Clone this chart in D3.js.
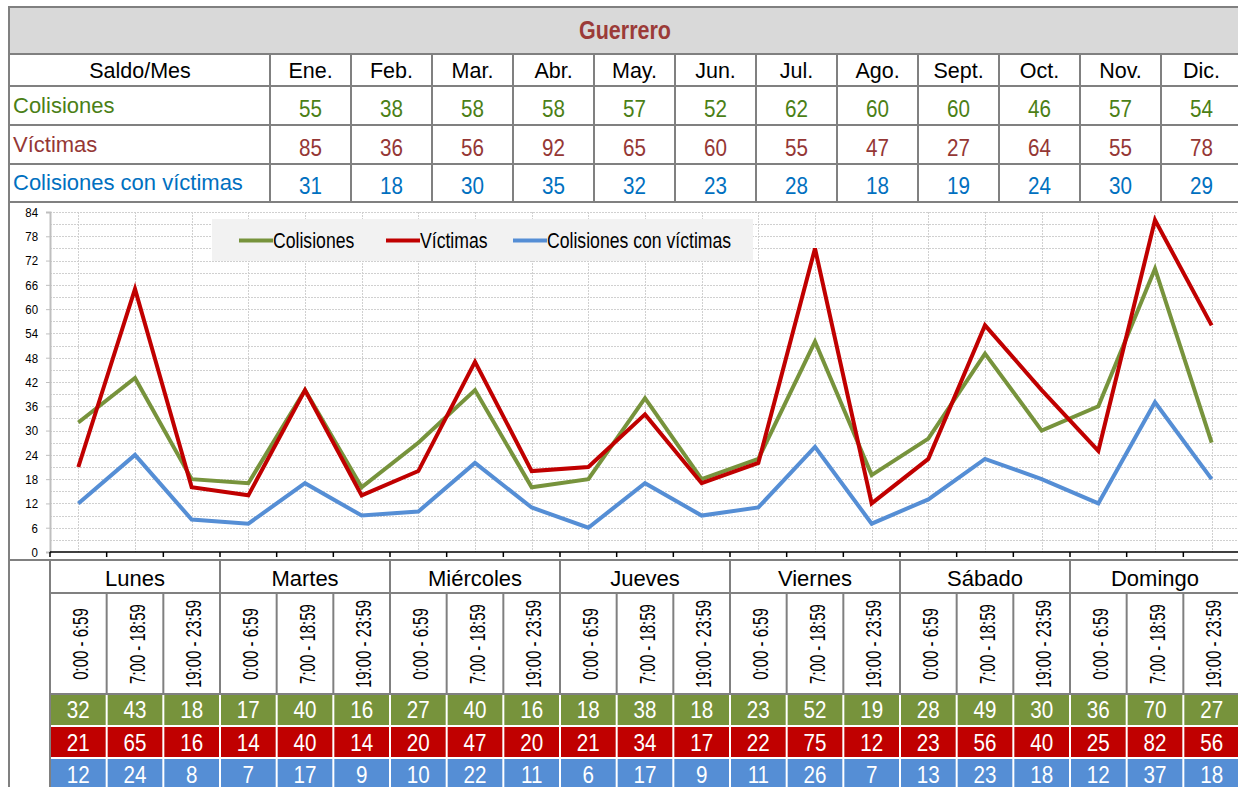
<!DOCTYPE html>
<html><head><meta charset="utf-8">
<script src="https://cdn.jsdelivr.net/npm/d3@7"></script>
<style>body{margin:0;background:#fff}svg{display:block}text{font-family:"Liberation Sans",Arial,sans-serif}</style>
</head><body>
<script>
const title = "Guerrero";
const months = ["Ene.","Feb.","Mar.","Abr.","May.","Jun.","Jul.","Ago.","Sept.","Oct.","Nov.","Dic."];
const monthColisiones = [55,38,58,58,57,52,62,60,60,46,57,54];
const monthVictimas = [85,36,56,92,65,60,55,47,27,64,55,78];
const monthColVict = [31,18,30,35,32,23,28,18,19,24,30,29];
const rowLabels = ["Colisiones","Víctimas","Colisiones con víctimas"];
const days = ["Lunes","Martes","Miércoles","Jueves","Viernes","Sábado","Domingo"];
const shifts = ["0:00 - 6:59","7:00 - 18:59","19:00 - 23:59"];
const colisiones = [32,43,18,17,40,16,27,40,16,18,38,18,23,52,19,28,49,30,36,70,27];
const victimas = [21,65,16,14,40,14,20,47,20,21,34,17,22,75,12,23,56,40,25,82,56];
const colVict = [12,24,8,7,17,9,10,22,11,6,17,9,11,26,7,13,23,18,12,37,18];
const yTicks = d3.range(0,85,6);

const W=1238,H=787;
const svg=d3.select("body").append("svg").attr("width",W).attr("height",H);
const border="#808080";
const lineColors=["#77933c","#c00000","#558ed5"];
const textColors=["#4b7f16","#953735","#0070c0"];

function txt(x,y,s,size,sx,anchor,fill,weight,rot){
  const t=svg.append("text")
    .attr("transform",`translate(${x},${y})${rot?` rotate(${rot})`:""} scale(${sx},1)`)
    .attr("text-anchor",anchor||"start").attr("font-size",size).attr("fill",fill||"#000").text(s);
  if(weight) t.attr("font-weight",weight);
  return t;
}

// ---- top table ----
const L=9, Rt=1242;
svg.append("rect").attr("x",L).attr("y",7).attr("width",Rt-L).attr("height",47).attr("fill","#d9d9d9");
txt(625,39,title,25,0.86,"middle","#9b3b38","bold");
const mx=d3.scaleBand().domain(months).range([270,Rt]);
const rowsY=[54,86,125,164,202];
txt(140,78,"Saldo/Mes",21.5,1,"middle");
months.forEach(m=>txt(mx(m)+mx.bandwidth()/2,78,m,21.5,1,"middle"));
const monthSeries=[monthColisiones,monthVictimas,monthColVict];
monthSeries.forEach((arr,r)=>{
  const yb=rowsY[r+2]-8;
  txt(13,yb-4,rowLabels[r],22,1,"start",textColors[r]);
  arr.forEach((v,i)=>txt(mx(months[i])+mx.bandwidth()/2,yb,v,24,0.86,"middle",textColors[r]));
});
const g1=svg.append("g").attr("stroke",border).attr("stroke-width",2);
g1.append("line").attr("x1",L).attr("x2",W).attr("y1",7).attr("y2",7);
rowsY.forEach(y=>g1.append("line").attr("x1",L).attr("x2",W).attr("y1",y).attr("y2",y));
[270,...months.slice(1).map(m=>mx(m))].forEach(x=>g1.append("line").attr("x1",x).attr("x2",x).attr("y1",54).attr("y2",202));

// ---- chart ----
const n=colisiones.length;
const x=d3.scaleBand().domain(d3.range(n)).range([50,1240]);
const y=d3.scaleLinear().domain([0,84]).range([552,212]);
const cx=i=>x(i)+x.bandwidth()/2;
const grid=svg.append("g").attr("stroke","#d0d0d0").attr("stroke-width",1).attr("stroke-dasharray","2,1");
d3.range(3,85,3).forEach(v=>grid.append("line").attr("x1",50).attr("x2",1238).attr("y1",Math.round(y(v))+0.5).attr("y2",Math.round(y(v))+0.5));
d3.range(n).forEach(i=>grid.append("line").attr("x1",Math.round(cx(i))+0.5).attr("x2",Math.round(cx(i))+0.5).attr("y1",212).attr("y2",552));
const ya=svg.append("g").attr("transform","translate(50,0)").call(d3.axisLeft(y).tickValues(yTicks).tickSize(4).tickPadding(8));
ya.select(".domain").attr("stroke","#bfbfbf").attr("stroke-width",2);
ya.selectAll(".tick line").attr("stroke","#bfbfbf");
ya.selectAll("text").attr("font-size",13.5).attr("fill","#000").attr("transform","scale(0.85,1)").attr("x",-12/0.85);
const xa=svg.append("g").attr("stroke","#000").attr("stroke-width",1.5);
xa.append("line").attr("x1",50).attr("x2",1238).attr("y1",552).attr("y2",552);
d3.range(n+1).forEach(i=>{const xx=i<n?x(i):x(n-1)+x.bandwidth();xa.append("line").attr("x1",xx).attr("x2",xx).attr("y1",552).attr("y2",557);});
const line=d3.line().x((d,i)=>cx(i)).y(d=>y(d));
[colisiones,victimas,colVict].forEach((arr,k)=>{
  svg.append("path").datum(arr).attr("d",line).attr("fill","none").attr("stroke",lineColors[k]).attr("stroke-width",4).attr("stroke-linejoin","miter");
});
// legend
svg.append("rect").attr("x",212).attr("y",219).attr("width",541).attr("height",42).attr("fill","#f2f2f2");
const legX=[239,386,513];
rowLabels.forEach((t,k)=>{
  svg.append("line").attr("x1",legX[k]).attr("x2",legX[k]+34).attr("y1",240.5).attr("y2",240.5).attr("stroke",lineColors[k]).attr("stroke-width",4);
  txt(legX[k]+34,247.5,t,21.5,0.82,"start","#000");
});

// ---- bottom table ----
const dx=d3.scaleBand().domain(days).range([50,1240]);
days.forEach(d=>txt(dx(d)+dx.bandwidth()/2,586,d,22,1,"middle"));
d3.range(n).forEach(i=>txt(cx(i)+9.5,644,shifts[i%3],22,0.68,"middle","#000",null,-90));
const rowTop=[694,727,759], rowH=[31,30,30];
[colisiones,victimas,colVict].forEach((arr,k)=>{
  arr.forEach((v,i)=>{
    svg.append("rect").attr("x",x(i)+1).attr("y",rowTop[k]).attr("width",x.bandwidth()-2).attr("height",rowH[k]).attr("fill",lineColors[k]);
    txt(cx(i),rowTop[k]+24,v,24,0.86,"middle","#fff");
  });
});
const g2=svg.append("g").attr("stroke",border).attr("stroke-width",2);
g2.append("line").attr("x1",L).attr("x2",W).attr("y1",560).attr("y2",560);
g2.append("line").attr("x1",50).attr("x2",W).attr("y1",593).attr("y2",593);
g2.append("line").attr("x1",50).attr("x2",W).attr("y1",694).attr("y2",694);
g2.append("line").attr("x1",50).attr("x2",50).attr("y1",560).attr("y2",H);
days.slice(1).forEach(d=>g2.append("line").attr("x1",dx(d)).attr("x2",dx(d)).attr("y1",560).attr("y2",694));
d3.range(1,n).filter(i=>i%3!==0).forEach(i=>g2.append("line").attr("x1",x(i)).attr("x2",x(i)).attr("y1",593).attr("y2",694));
g2.append("line").attr("x1",L).attr("x2",L).attr("y1",6).attr("y2",H);
</script>
</body></html>
